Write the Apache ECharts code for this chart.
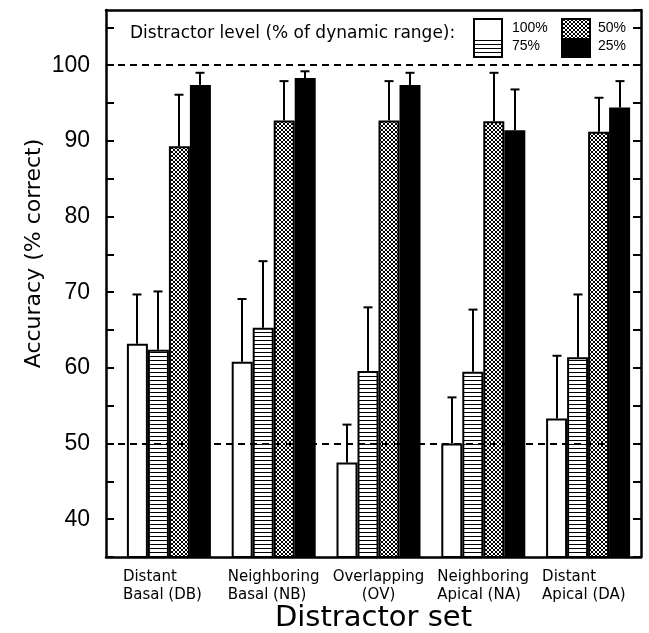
<!DOCTYPE html>
<html>
<head>
<meta charset="utf-8">
<script src="https://cdn.jsdelivr.net/npm/echarts@6/dist/echarts.min.js"></script>
<style>html,body{margin:0;padding:0;background:#fff}#c{width:649px;height:633px}</style>
</head>
<body>
<div id="c"></div>
<script>
// ---- data ----
const categories = ['Distant\nBasal (DB)', 'Neighboring\nBasal (NB)', 'Overlapping\n(OV)', 'Neighboring\nApical (NA)', 'Distant\nApical (DA)'];
const levels = ['100%', '75%', '50%', '25%'];
const acc100 = [63.2, 60.8, 47.5, 50.0, 53.3];
const acc75  = [62.4, 65.3, 59.6, 59.5, 61.4];
const acc50  = [89.3, 92.7, 92.7, 92.6, 91.2];
const acc25  = [97.4, 98.3, 97.4, 91.4, 94.4];
const sd100 = [6.5, 8.3, 5.0, 6.1, 8.3];
const sd75  = [7.7, 8.8, 8.4, 8.2, 8.3];
const sd50  = [6.8, 5.2, 5.2, 6.4, 4.5];
const sd25  = [1.6, 0.9, 1.6, 5.4, 3.5];
const refLines = [100, 50];
const yTicks = [40, 50, 60, 70, 80, 90, 100];

const means = [acc100, acc75, acc50, acc25];
const sds = [sd100, sd75, sd50, sd25];

// ---- patterns ----
function hPattern() {
  const c = document.createElement('canvas'); c.width = 8; c.height = 4;
  const g = c.getContext('2d');
  g.fillStyle = '#000'; g.fillRect(0, 0, 8, 1);
  return c;
}
function xPattern() {
  const c = document.createElement('canvas'); c.width = 4; c.height = 4;
  const g = c.getContext('2d');
  g.fillStyle = '#fff'; g.fillRect(0, 0, 4, 4);
  g.strokeStyle = '#000'; g.lineWidth = 1;
  g.beginPath();
  g.moveTo(-1, -1); g.lineTo(5, 5);
  g.moveTo(-1, 5); g.lineTo(5, -1);
  g.stroke();
  return c;
}
const fills = [
  'rgba(0,0,0,0)',
  { image: hPattern(), repeat: 'repeat' },
  { image: xPattern(), repeat: 'repeat' },
  '#000'
];

const BAR_W = 21;
const YMIN = 35, YMAX = 107.3;
const FONT = 'DejaVu Sans';

const chart = echarts.init(document.getElementById('c'), null, { renderer: 'canvas' });

const barSeries = levels.map((lv, k) => ({
  type: 'bar', name: lv, xAxisIndex: 2, yAxisIndex: 2,
  data: means[k], barWidth: BAR_W, barGap: '0%', z: 3,
  itemStyle: { color: fills[k], borderColor: '#000', borderWidth: 2 },
  silent: true
}));

const errData = [];
levels.forEach((lv, k) => {
  categories.forEach((c, i) => errData.push([i, means[k][i], sds[k][i], k]));
});

const gridBase = { top: 10, bottom: 76, containLabel: false, outerBoundsMode: 'none' };

const option = {
  animation: false,
  backgroundColor: '#fff',
  grid: [
    Object.assign({ left: 106, right: 8 }, gridBase),
    Object.assign({ left: 106, right: 8 }, gridBase),
    Object.assign({ left: 116.5, right: 8.5 }, gridBase)
  ],
  xAxis: [
    { gridIndex: 0, type: 'value', min: 0, max: 1, position: 'bottom',
      axisLine: { show: true, onZero: false, lineStyle: { color: '#000', width: 2.5 } },
      axisTick: { show: false }, axisLabel: { show: false }, splitLine: { show: false },
      name: 'Distractor set', nameLocation: 'middle', nameGap: 47, nameMoveOverlap: false,
      nameTextStyle: { fontFamily: FONT, fontSize: 29, color: '#000' } },
    { gridIndex: 1, type: 'value', min: 0, max: 1, position: 'top',
      axisLine: { show: true, onZero: false, lineStyle: { color: '#000', width: 2.5 } },
      axisTick: { show: false }, axisLabel: { show: false }, splitLine: { show: false } },
    { gridIndex: 2, type: 'category', data: categories, position: 'bottom',
      axisLine: { show: false }, axisTick: { show: false }, splitLine: { show: false },
      axisLabel: {
        margin: 11, interval: 0, color: '#000', fontFamily: FONT, fontSize: 15, lineHeight: 18,
        formatter: (v) => {
          const st = v.indexOf('(OV)') >= 0 ? 'c' : 'l';
          return v.split('\n').map(s => '{' + st + '|' + s + '}').join('\n');
        },
        rich: {
          l: { width: 92, align: 'left', fontFamily: FONT, fontSize: 15, lineHeight: 18, color: '#000' },
          c: { width: 92, align: 'center', fontFamily: FONT, fontSize: 15, lineHeight: 18, color: '#000' }
        }
      } }
  ],
  yAxis: [
    { gridIndex: 0, type: 'value', min: YMIN, max: YMAX, interval: 5, position: 'left',
      axisLine: { show: true, onZero: false, lineStyle: { color: '#000', width: 2.5 } },
      axisTick: { show: true, inside: true, length: 8, lineStyle: { color: '#000', width: 2 } },
      axisLabel: { margin: 16, color: '#000', fontFamily: 'Liberation Sans', fontSize: 23,
        formatter: (v) => yTicks.indexOf(v) >= 0 ? String(v) : '' ,
        showMinLabel: true, showMaxLabel: false },
      splitLine: { show: false },
      name: 'Accuracy (% correct)', nameLocation: 'middle', nameGap: 61, nameRotate: 90, nameMoveOverlap: false,
      nameTextStyle: { fontFamily: FONT, fontSize: 22, color: '#000', padding: [0, 0, 0, 60] } },
    { gridIndex: 1, type: 'value', min: YMIN, max: YMAX, interval: 5, position: 'right',
      axisLine: { show: true, onZero: false, lineStyle: { color: '#000', width: 2.5 } },
      axisTick: { show: true, inside: true, length: 8, lineStyle: { color: '#000', width: 2 } },
      axisLabel: { show: false }, splitLine: { show: false } },
    { gridIndex: 2, type: 'value', min: YMIN, max: YMAX, show: false, splitLine: { show: false } }
  ],
  series: [
    { type: 'line', xAxisIndex: 0, yAxisIndex: 0, data: [], z: 1, silent: true,
      markLine: { symbol: 'none', silent: true, label: { show: false },
        lineStyle: { color: '#000', type: [7, 5], width: 2 },
        data: refLines.map(v => ({ yAxis: v })) } },
    ...barSeries,
    { type: 'custom', xAxisIndex: 2, yAxisIndex: 2, z: 4, silent: true,
      data: errData, encode: { x: 0, y: 1 },
      renderItem: (params, api) => {
        const ci = api.value(0), m = api.value(1), s = api.value(2), k = api.value(3);
        const p0 = api.coord([ci, m]);
        const p1 = api.coord([ci, m + s]);
        const x = Math.round(p0[0] + (k - 1.5) * BAR_W);
        const st = { stroke: '#000', lineWidth: 2 };
        return { type: 'group', children: [
          { type: 'line', shape: { x1: x, y1: p0[1], x2: x, y2: p1[1] }, style: st },
          { type: 'line', shape: { x1: x - 4.5, y1: p1[1], x2: x + 4.5, y2: p1[1] }, style: st }
        ] };
      } }
  ],
  graphic: [
    { type: 'text', left: 130, top: 25, style: { text: 'Distractor level (% of dynamic range):', font: '17px "DejaVu Sans"', fill: '#000' } },
    { type: 'rect', shape: { x: 474, y: 19, width: 28, height: 19 }, style: { fill: '#fff', stroke: null } },
    { type: 'rect', shape: { x: 474, y: 38, width: 28, height: 19 }, style: { fill: { image: hPattern(), repeat: 'repeat' }, stroke: null } },
    { type: 'rect', shape: { x: 474, y: 19, width: 28, height: 38 }, style: { fill: null, stroke: '#000', lineWidth: 2 } },
    { type: 'rect', shape: { x: 562, y: 19, width: 28, height: 19 }, style: { fill: { image: xPattern(), repeat: 'repeat' }, stroke: null } },
    { type: 'rect', shape: { x: 562, y: 38, width: 28, height: 19 }, style: { fill: '#000', stroke: null } },
    { type: 'rect', shape: { x: 562, y: 19, width: 28, height: 38 }, style: { fill: null, stroke: '#000', lineWidth: 2 } },
    { type: 'text', left: 512, top: 21, style: { text: levels[0], font: '14px "Liberation Sans"', fill: '#000' } },
    { type: 'text', left: 512, top: 39, style: { text: levels[1], font: '14px "Liberation Sans"', fill: '#000' } },
    { type: 'text', left: 598, top: 21, style: { text: levels[2], font: '14px "Liberation Sans"', fill: '#000' } },
    { type: 'text', left: 598, top: 39, style: { text: levels[3], font: '14px "Liberation Sans"', fill: '#000' } }
  ]
};
chart.setOption(option);
</script>
</body>
</html>
